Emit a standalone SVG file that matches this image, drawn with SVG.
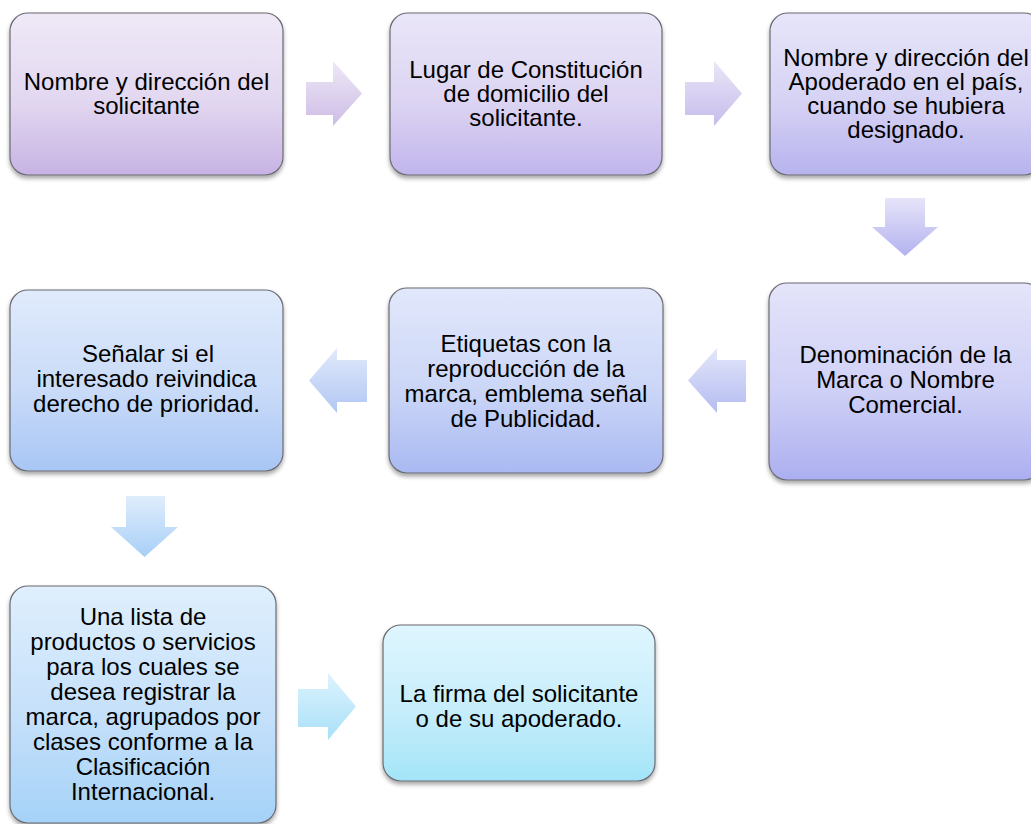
<svg xmlns="http://www.w3.org/2000/svg" width="1031" height="824" viewBox="0 0 1031 824">
<defs>
<style>
.box{stroke:#6b6b73;stroke-width:1.2;filter:url(#sh)}
.t{font-family:"Liberation Sans",Arial,sans-serif;font-size:24px;fill:#000;text-anchor:middle}
.arr{stroke:none}
</style>
<filter id="sh" x="-10%" y="-10%" width="120%" height="125%">
<feDropShadow dx="0" dy="3" stdDeviation="2" flood-color="#000" flood-opacity="0.35"/>
</filter>
<linearGradient id="g1" x1="0" y1="0" x2="0" y2="1"><stop offset="0" stop-color="#efe9f7"/><stop offset="0.55" stop-color="#e2d7f0"/><stop offset="1" stop-color="#c7b3e4"/></linearGradient>
<linearGradient id="g2" x1="0" y1="0" x2="0" y2="1"><stop offset="0" stop-color="#eae6f8"/><stop offset="0.55" stop-color="#dcd4f2"/><stop offset="1" stop-color="#c1b5ec"/></linearGradient>
<linearGradient id="g3" x1="0" y1="0" x2="0" y2="1"><stop offset="0" stop-color="#e7e5f9"/><stop offset="0.55" stop-color="#d6d2f4"/><stop offset="1" stop-color="#b7b3ee"/></linearGradient>
<linearGradient id="g6" x1="0" y1="0" x2="0" y2="1"><stop offset="0" stop-color="#e4e4fa"/><stop offset="0.55" stop-color="#cfd0f6"/><stop offset="1" stop-color="#acaff0"/></linearGradient>
<linearGradient id="g5" x1="0" y1="0" x2="0" y2="1"><stop offset="0" stop-color="#e2e8fb"/><stop offset="0.55" stop-color="#cbd6f7"/><stop offset="1" stop-color="#a9b9f2"/></linearGradient>
<linearGradient id="g4" x1="0" y1="0" x2="0" y2="1"><stop offset="0" stop-color="#e0ebfc"/><stop offset="0.55" stop-color="#c9dbf8"/><stop offset="1" stop-color="#a8c6f5"/></linearGradient>
<linearGradient id="g7" x1="0" y1="0" x2="0" y2="1"><stop offset="0" stop-color="#dfeffd"/><stop offset="0.55" stop-color="#c5e0fa"/><stop offset="1" stop-color="#a5d2f8"/></linearGradient>
<linearGradient id="g8" x1="0" y1="0" x2="0" y2="1"><stop offset="0" stop-color="#dff6fe"/><stop offset="0.55" stop-color="#c6edfb"/><stop offset="1" stop-color="#a3e5f8"/></linearGradient>
<linearGradient id="a1" x1="0" y1="0" x2="0" y2="1"><stop offset="0" stop-color="#efe8f6"/><stop offset="1" stop-color="#cdbde6"/></linearGradient>
<linearGradient id="a2" x1="0" y1="0" x2="0" y2="1"><stop offset="0" stop-color="#ebe6f7"/><stop offset="1" stop-color="#c6bcec"/></linearGradient>
<linearGradient id="a3" x1="0" y1="0" x2="0" y2="1"><stop offset="0" stop-color="#e6e4f9"/><stop offset="1" stop-color="#b3b2ef"/></linearGradient>
<linearGradient id="a4" x1="0" y1="0" x2="0" y2="1"><stop offset="0" stop-color="#e3e6fa"/><stop offset="1" stop-color="#b4bcf1"/></linearGradient>
<linearGradient id="a5" x1="0" y1="0" x2="0" y2="1"><stop offset="0" stop-color="#e1eafb"/><stop offset="1" stop-color="#b1c6f4"/></linearGradient>
<linearGradient id="a6" x1="0" y1="0" x2="0" y2="1"><stop offset="0" stop-color="#e0edfc"/><stop offset="1" stop-color="#a8cff7"/></linearGradient>
<linearGradient id="a7" x1="0" y1="0" x2="0" y2="1"><stop offset="0" stop-color="#def3fd"/><stop offset="1" stop-color="#a8e0f8"/></linearGradient>
</defs>
<rect width="1031" height="824" fill="#fff"/>

<g id="connectors">
<polygon class="arr" fill="url(#a1)" points="306,82 333,82 333,61 362,93.5 333,126 333,115 306,115"/>
<polygon class="arr" fill="url(#a2)" points="685,82 714,82 714,61 742,93.5 714,126 714,115 685,115"/>
<polygon class="arr" fill="url(#a3)" points="885,198 925,198 925,227 938,227 905,256 872,227 885,227"/>
<polygon class="arr" fill="url(#a4)" points="746,360 717,360 717,348 688,380.5 717,413 717,402 746,402"/>
<polygon class="arr" fill="url(#a5)" points="367,360 337,360 337,348 309,380.5 337,413 337,402 367,402"/>
<polygon class="arr" fill="url(#a6)" points="126,496 165,496 165,527 178,527 144.5,557 111,527 126,527"/>
<polygon class="arr" fill="url(#a7)" points="298,689 328,689 328,673 356,706.5 328,740 328,727 298,727"/>
</g>

<g id="n1">
<rect class="box" x="10" y="13" width="273" height="162" rx="18" fill="url(#g1)"/>
<text class="t" x="146.5"><tspan x="146.5" y="90">Nombre y dirección del</tspan><tspan x="146.5" y="114">solicitante</tspan></text>
</g>
<g id="n2">
<rect class="box" x="390" y="13" width="272" height="162" rx="18" fill="url(#g2)"/>
<text class="t"><tspan x="526" y="78">Lugar de Constitución</tspan><tspan x="526" y="102">de domicilio del</tspan><tspan x="526" y="126">solicitante.</tspan></text>
</g>
<g id="n3">
<rect class="box" x="770" y="13" width="272" height="162" rx="18" fill="url(#g3)"/>
<text class="t"><tspan x="906" y="66">Nombre y dirección del</tspan><tspan x="906" y="90">Apoderado en el país,</tspan><tspan x="906" y="114">cuando se hubiera</tspan><tspan x="906" y="138">designado.</tspan></text>
</g>
<g id="n4">
<rect class="box" x="769" y="283" width="273" height="197" rx="18" fill="url(#g6)"/>
<text class="t"><tspan x="905.5" y="363">Denominación de la</tspan><tspan x="905.5" y="388">Marca o Nombre</tspan><tspan x="905.5" y="413">Comercial.</tspan></text>
</g>
<g id="n5">
<rect class="box" x="389" y="288" width="274" height="185" rx="18" fill="url(#g5)"/>
<text class="t"><tspan x="526" y="352">Etiquetas con la</tspan><tspan x="526" y="377">reproducción de la</tspan><tspan x="526" y="402">marca, emblema señal</tspan><tspan x="526" y="427">de Publicidad.</tspan></text>
</g>
<g id="n6">
<rect class="box" x="10" y="290" width="273" height="181" rx="18" fill="url(#g4)"/>
<text class="t"><tspan x="148" y="362">Señalar si el</tspan><tspan x="146.5" y="387">interesado reivindica</tspan><tspan x="146.5" y="412">derecho de prioridad.</tspan></text>
</g>
<g id="n7">
<rect class="box" x="10" y="586" width="266" height="237" rx="18" fill="url(#g7)"/>
<text class="t"><tspan x="143" y="625">Una lista de</tspan><tspan x="143" y="650">productos o servicios</tspan><tspan x="143" y="675">para los cuales se</tspan><tspan x="143" y="700">desea registrar la</tspan><tspan x="143" y="725">marca, agrupados por</tspan><tspan x="143" y="750">clases conforme a la</tspan><tspan x="143" y="775">Clasificación</tspan><tspan x="143" y="800">Internacional.</tspan></text>
</g>
<g id="n8">
<rect class="box" x="383" y="625" width="272" height="156" rx="18" fill="url(#g8)"/>
<text class="t"><tspan x="519" y="702">La firma del solicitante</tspan><tspan x="519" y="727">o de su apoderado.</tspan></text>
</g>
</svg>
